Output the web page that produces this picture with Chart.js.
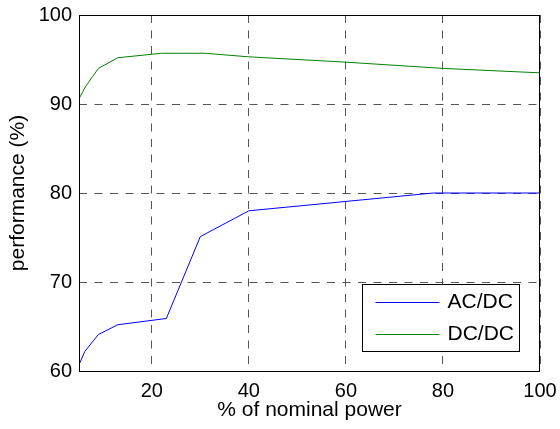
<!DOCTYPE html>
<html>
<head>
<meta charset="utf-8">
<script src="https://cdn.jsdelivr.net/npm/chart.js@4.4.1/dist/chart.umd.min.js"></script>
<style>
  html, body { margin: 0; padding: 0; background: #ffffff; }
  #wrap { width: 560px; height: 429px; position: relative; }
</style>
</head>
<body>
<div id="wrap"><canvas id="myChart"></canvas></div>
<script>
// Converter performance vs load

// ✅ Data
const acdcX = [5, 6.2, 9, 13, 23, 30, 40, 78, 100];
const acdcY = [60.7, 62.2, 64.1, 65.2, 65.9, 75.1, 78, 80, 80];

const dcdcX = [5, 6.4, 9, 13, 22, 31, 40, 60, 80, 100];
const dcdcY = [90.6, 92.0, 94.0, 95.2, 95.7, 95.7, 95.3, 94.7, 94.0, 93.5];

const xTicks = [20, 40, 60, 80, 100];
const seriesNames = ["AC/DC", "DC/DC"];

const fontFamily = "'Liberation Sans', Arial, Helvetica, sans-serif";

const toPoints = (xs, ys) => xs.map((x, i) => ({ x: x, y: ys[i] }));

// ✅ Frame around plot + legend box inside (matlab look)
const framePlugin = {
  id: "frame",
  afterDatasetsDraw(chart) {
    const { ctx, chartArea } = chart;
    ctx.save();
    ctx.strokeStyle = "#000000";
    ctx.lineWidth = 1;
    ctx.setLineDash([]);
    ctx.strokeRect(
      Math.round(chartArea.left) + 0.5,
      Math.round(chartArea.top) + 0.5,
      Math.round(chartArea.right - chartArea.left) - 1,
      Math.round(chartArea.bottom - chartArea.top)
    );

    // legend box
    const boxRight = chartArea.right - 21;
    const boxBottom = chartArea.bottom - 20;
    const boxW = 157;
    const boxH = 67;
    const bx = Math.round(boxRight - boxW) + 0.5;
    const by = Math.round(boxBottom - boxH) + 0.5;
    ctx.fillStyle = "#ffffff";
    ctx.fillRect(bx, by, boxW, boxH);
    ctx.strokeRect(bx, by, boxW, boxH);

    ctx.font = "21px " + fontFamily;
    ctx.textBaseline = "middle";
    ctx.textAlign = "left";
    chart.data.datasets.forEach((ds, i) => {
      const rowY = by + 17 + i * 32;
      ctx.strokeStyle = ds.borderColor;
      ctx.beginPath();
      ctx.moveTo(bx + 13, Math.round(rowY) + 0.5);
      ctx.lineTo(bx + 77, Math.round(rowY) + 0.5);
      ctx.stroke();
      ctx.fillStyle = "#000000";
      ctx.fillText(ds.label, bx + 85, rowY + 1);
    });
    ctx.restore();
  },
};

const data = {
  datasets: [
    {
      label: seriesNames[0],
      data: toPoints(acdcX, acdcY),
      borderColor: "#0000ff",
      borderWidth: 1,
      pointRadius: 0,
      tension: 0,
      fill: false,
    },
    {
      label: seriesNames[1],
      data: toPoints(dcdcX, dcdcY),
      borderColor: "#008000",
      borderWidth: 1,
      pointRadius: 0,
      tension: 0,
      fill: false,
    },
  ],
};

const gridStyle = {
  color: "#555555",
  lineWidth: 1,
  drawTicks: false,
};

const config = {
  type: "line",
  data: data,
  plugins: [framePlugin],
  options: {
    responsive: true,
    maintainAspectRatio: false,
    animation: false,
    layout: {
      padding: { top: 15, right: 20, left: 0, bottom: 0 },
    },
    plugins: {
      legend: { display: false },
      tooltip: { enabled: false },
    },
    scales: {
      x: {
        type: "linear",
        min: 5,
        max: 100,
        afterBuildTicks: (scale) => {
          scale.ticks = xTicks.map((v) => ({ value: v }));
        },
        afterFit: (scale) => {
          scale.height = 58;
          scale.paddingLeft = 0;
          scale.paddingRight = 0;
        },
        grid: gridStyle,
        border: { display: false, dash: [8, 7.5] },
        ticks: {
          color: "#000000",
          padding: 8,
          maxRotation: 0,
          font: { family: fontFamily, size: 20 },
        },
        title: {
          display: true,
          text: "% of nominal power",
          color: "#000000",
          font: { family: fontFamily, size: 21 },
          padding: { top: 0, bottom: 6 },
        },
      },
      y: {
        min: 60,
        max: 100,
        afterFit: (scale) => {
          scale.width = 79;
          scale.paddingTop = 0;
          scale.paddingBottom = 0;
        },
        grid: gridStyle,
        border: { display: false, dash: [8, 7.5] },
        ticks: {
          stepSize: 10,
          color: "#000000",
          padding: 7,
          font: { family: fontFamily, size: 20 },
        },
        title: {
          display: true,
          text: "performance (%)",
          color: "#000000",
          font: { family: fontFamily, size: 21 },
          padding: { top: 6, bottom: 0 },
        },
      },
    },
  },
};

// ✅ Create chart
new Chart(document.getElementById("myChart"), config);
</script>
</body>
</html>
